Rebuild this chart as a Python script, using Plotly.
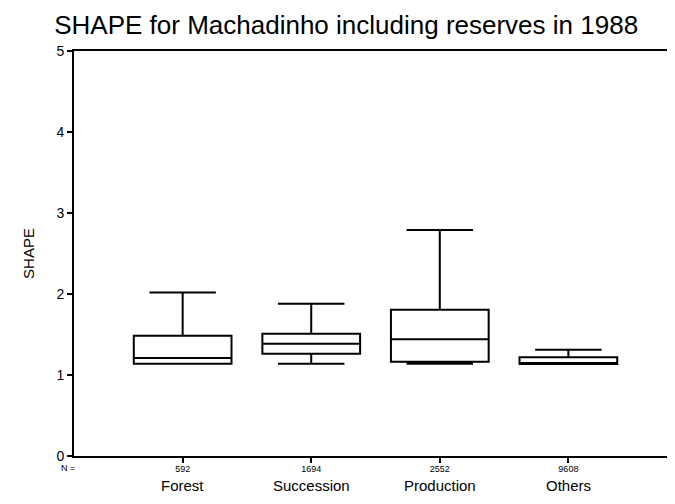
import plotly.graph_objects as go

categories = ["Forest", "Succession", "Production", "Others"]
n_counts = [592, 1694, 2552, 9608]
lower_whisker = [1.14, 1.14, 1.14, 1.136]
q1_vals = [1.14, 1.263, 1.164, 1.136]
median_vals = [1.21, 1.387, 1.44, 1.136]
q3_vals = [1.485, 1.51, 1.806, 1.218]
upper_whisker = [2.02, 1.88, 2.79, 1.312]
y_ticks = [0, 1, 2, 3, 4, 5]

positions = list(range(1, len(categories) + 1))

fig = go.Figure()
fig.add_trace(go.Box(
    x=positions,
    q1=q1_vals, median=median_vals, q3=q3_vals,
    lowerfence=lower_whisker, upperfence=upper_whisker,
    width=0.76, whiskerwidth=0.68,
    fillcolor="rgba(0,0,0,0)",
    line=dict(color="black", width=2),
    boxpoints=False, showlegend=False, hoverinfo="skip",
))

for p, c in zip(positions, categories):
    fig.add_annotation(x=p, y=0, xref="x", yref="paper", text=c, showarrow=False,
                       yanchor="middle", yshift=-29, font=dict(size=15, color="black"))
fig.add_annotation(x=0, y=0, xref="paper", yref="paper", text="N =", showarrow=False,
                   xanchor="center", yanchor="middle", xshift=-6, yshift=-12,
                   font=dict(size=9, color="black"))

fig.update_layout(
    width=667, height=496,
    paper_bgcolor="white", plot_bgcolor="white",
    margin=dict(l=66, r=6, t=43, b=48),
    font=dict(family="Liberation Sans, Arial, sans-serif", color="black"),
    title=dict(text="SHAPE for Machadinho including reserves in 1988",
               x=0.507, xanchor="center", y=0.966, yanchor="middle",
               font=dict(size=26, color="black")),
    xaxis=dict(range=[0.155, 4.767], tickvals=positions,
               ticktext=[str(n) for n in n_counts],
               showgrid=False, zeroline=False, showline=True, linecolor="black",
               linewidth=2, mirror=True, ticks="outside", ticklen=5, tickwidth=2,
               tickcolor="black", tickfont=dict(size=9), ticklabelstandoff=-2),
    yaxis=dict(range=[0, 5], tickvals=y_ticks,
               title=dict(text="SHAPE", font=dict(size=15), standoff=18),
               showgrid=False, zeroline=False, showline=True, linecolor="black",
               linewidth=2, mirror=True, ticks="outside", ticklen=5, tickwidth=2,
               tickcolor="black", tickfont=dict(size=14)),
)

fig.write_html("out.html")
